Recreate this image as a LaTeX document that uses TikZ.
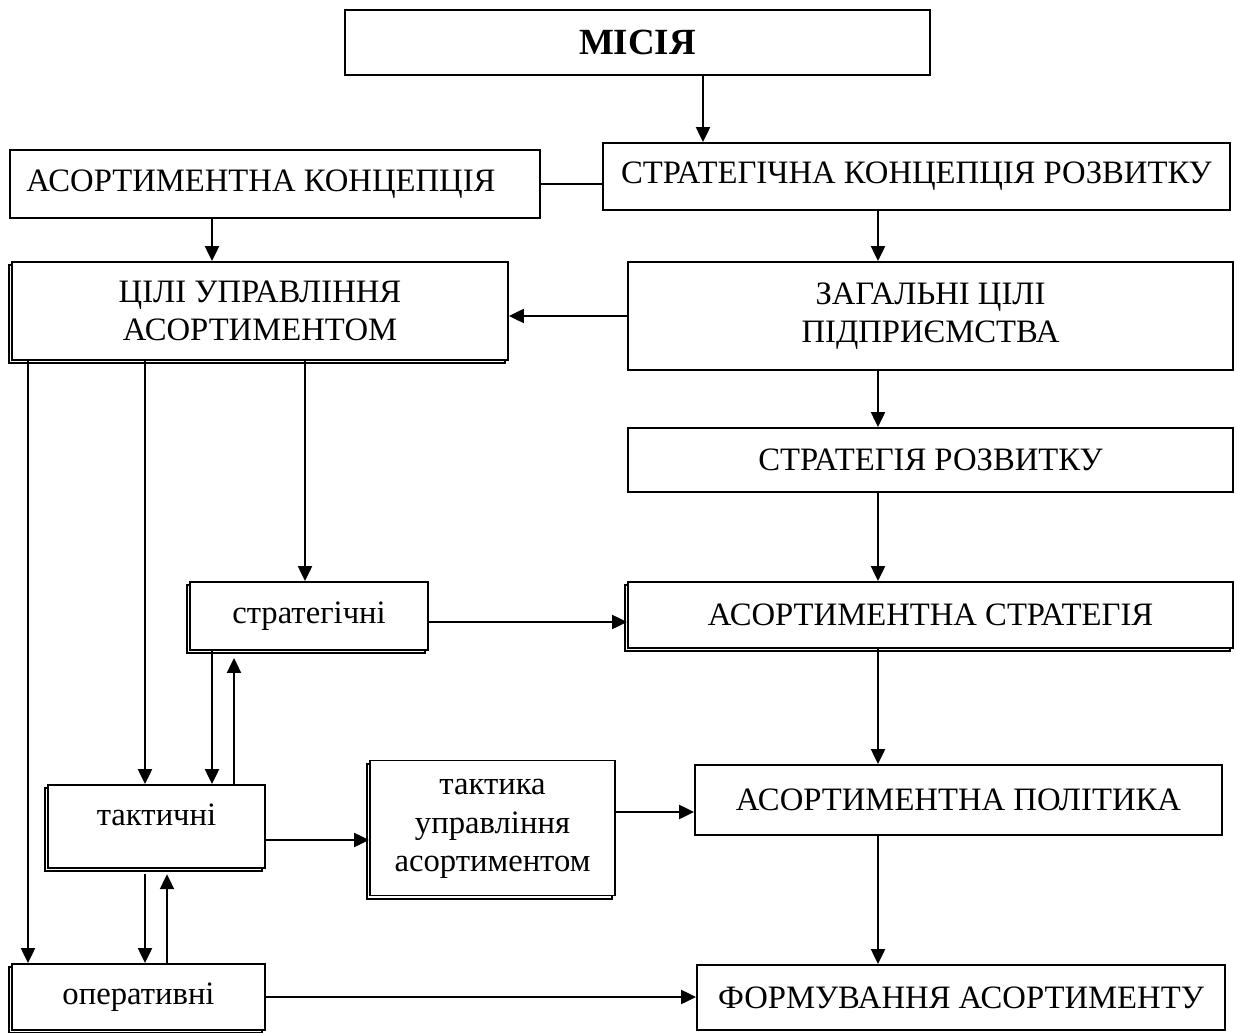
\documentclass[tikz,border=0pt]{standalone}
\usepackage{fontspec}
\setmainfont{Liberation Serif}
\usetikzlibrary{arrows.meta,shadows}
\begin{document}
\begin{tikzpicture}[x=0.02cm,y=-0.02cm,
  box/.style={draw, line width=1.1pt, fill=white, align=center, inner sep=0pt,
    font=\fontsize{18.6}{21.6}\selectfont},
  shad/.style={general shadow={shadow xshift=-1.6pt, shadow yshift=-1.8pt, draw=black, fill=white, line width=1pt}},
  arr/.style={line width=1.1pt, -{Triangle[length=8.5pt,width=8pt]}},
  ln/.style={line width=1.1pt}]
\useasboundingbox (0,0) rectangle (1237,1033);
% lane coordinates
\coordinate (xM) at (703,0);
\coordinate (xAK) at (212,0);
\coordinate (xR) at (878,0);
\coordinate (xS) at (305,0);
\coordinate (xT) at (145,0);
\coordinate (xO) at (28,0);
\coordinate (xSd) at (212,0);
\coordinate (xSu) at (234,0);
\coordinate (xTd) at (145,0);
\coordinate (xTu) at (167,0);
\coordinate (yTT) at (0,840);
\coordinate (yTP) at (0,812);
\coordinate (ySA) at (0,622);
% boxes
\node[box, minimum width=585*0.02cm, minimum height=65*0.02cm, font=\fontsize{21}{24}\selectfont\bfseries] (mis) at (637.5,42.5) {МІСІЯ};
\node[box, minimum width=627*0.02cm, minimum height=67*0.02cm] (skr) at (916.5,176.5) {СТРАТЕГІЧНА КОНЦЕПЦІЯ РОЗВИТКУ};
\node[box, minimum width=530*0.02cm, minimum height=68*0.02cm] (ak) at (275,184) {АСОРТИМЕНТНА КОНЦЕПЦІЯ\hspace*{16pt}};
\node[box, shad, minimum width=496*0.02cm, minimum height=98*0.02cm] (cili) at (260,311) {ЦІЛІ УПРАВЛІННЯ\\АСОРТИМЕНТОМ};
\node[box, minimum width=605*0.02cm, minimum height=108*0.02cm] (zag) at (930.5,316) {ЗАГАЛЬНІ ЦІЛІ\\ПІДПРИЄМСТВА};
\node[box, minimum width=605*0.02cm, minimum height=64*0.02cm] (sr) at (930.5,460) {СТРАТЕГІЯ РОЗВИТКУ};
\node[box, shad, minimum width=605*0.02cm, minimum height=66*0.02cm] (as) at (930.5,615) {АСОРТИМЕНТНА СТРАТЕГІЯ};
\node[box, shad, minimum width=238*0.02cm, minimum height=68*0.02cm] (strg) at (309,616) {стратегічні};
\node[box, minimum width=527*0.02cm, minimum height=70*0.02cm] (ap) at (958.5,800) {АСОРТИМЕНТНА ПОЛІТИКА};
\node[box, shad, minimum width=217*0.02cm, minimum height=83*0.02cm, text height=12pt, text depth=13pt] (takt) at (156.5,826.5) {тактичні};
\node[box, shad, minimum width=245*0.02cm, minimum height=135*0.02cm, font=\fontsize{18.6}{21.8}\selectfont, text depth=3pt] (tum) at (492.5,828) {тактика\\управління\\асортиментом};
\node[box, shad, minimum width=253*0.02cm, minimum height=66*0.02cm] (op) at (138.5,997) {оперативні};
\node[box, minimum width=528*0.02cm, minimum height=65*0.02cm] (fa) at (961,997.5) {ФОРМУВАННЯ АСОРТИМЕНТУ};
% connectors
\draw[arr] (mis.south -| xM) -- (skr.north -| xM);
\draw[ln] (ak.east) -- (ak.east -| skr.west);
\draw[arr] (ak.south -| xAK) -- (cili.north -| xAK);
\draw[arr] (skr.south -| xR) -- (zag.north -| xR);
\draw[arr] (zag.west) -- (zag.west -| cili.east);
\draw[arr] (zag.south -| xR) -- (sr.north -| xR);
\draw[arr] (sr.south -| xR) -- (as.north -| xR);
\draw[arr] (as.south -| xR) -- (ap.north -| xR);
\draw[arr] (ap.south -| xR) -- (fa.north -| xR);
\draw[arr] (cili.south -| xS) -- (strg.north -| xS);
\draw[arr] (cili.south -| xT) -- (takt.north -| xT);
\draw[arr] (cili.south -| xO) -- (op.north -| xO);
\draw[arr] (strg.east |- ySA) -- (as.west |- ySA);
\draw[arr] (strg.south -| xSd) -- (takt.north -| xSd);
\draw[arr] (takt.north -| xSu) -- ([yshift=-4pt]strg.south -| xSu);
\draw[arr] (takt.east |- yTT) -- (tum.west |- yTT);
\draw[arr] (tum.east |- yTP) -- (ap.west |- yTP);
\draw[arr] ([yshift=-3pt]takt.south -| xTd) -- (op.north -| xTd);
\draw[arr] (op.north -| xTu) -- ([yshift=-3pt]takt.south -| xTu);
\draw[arr] (op.east) -- (op.east -| fa.west);
\end{tikzpicture}
\end{document}
